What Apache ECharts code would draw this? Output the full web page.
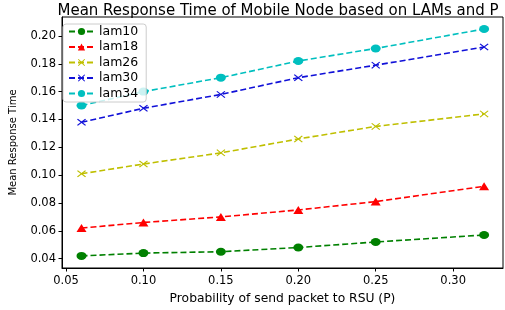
<!DOCTYPE html>
<html><head><meta charset="utf-8">
<script src="https://cdn.jsdelivr.net/npm/echarts@6/dist/echarts.min.js"></script>
<style>html,body{margin:0;padding:0;background:#fff}#c{width:505px;height:310px}</style>
</head><body><div id="c"></div>
<script>
const pValues = [0.06, 0.10, 0.15, 0.20, 0.25, 0.32];
const lam10 = [0.042, 0.044, 0.045, 0.048, 0.052, 0.057];
const lam18 = [0.062, 0.066, 0.070, 0.075, 0.081, 0.092];
const lam26 = [0.101, 0.108, 0.116, 0.126, 0.135, 0.144];
const lam30 = [0.138, 0.148, 0.158, 0.170, 0.179, 0.192];
const lam34 = [0.150, 0.160, 0.170, 0.182, 0.191, 0.205];
const xTicks = [0.05, 0.10, 0.15, 0.20, 0.25, 0.30];
const yTicks = [0.04, 0.06, 0.08, 0.10, 0.12, 0.14, 0.16, 0.18, 0.20];
const seriesNames = ['lam10', 'lam18', 'lam26', 'lam30', 'lam34'];

const X = 'path://M0,1L1,0L5,4L9,0L10,1L6,5L10,9L9,10L5,6L1,10L0,9L4,5Z';
const styles = [
  {color: '#008000', symbol: 'circle', size: [10, 8]},
  {color: '#ff0000', symbol: 'triangle', size: [10, 8]},
  {color: '#bfbf00', symbol: X, size: [9, 7]},
  {color: '#1010d8', symbol: X, size: [9, 7]},
  {color: '#00bfbf', symbol: 'circle', size: [10, 8]}
];
const allData = [lam10, lam18, lam26, lam30, lam34];
const font = 'DejaVu Sans';

const chart = echarts.init(document.getElementById('c'), null, {renderer: 'canvas'});
chart.setOption({
  animation: false,
  backgroundColor: '#fff',
  title: {
    text: 'Mean Response Time of Mobile Node based on LAMs and P',
    left: 273, top: -1, textAlign: 'center',
    textStyle: {fontFamily: font, fontSize: 15, fontWeight: 'normal', color: '#000'}
  },
  grid: {left: 56, right: 2, top: 17, bottom: 32, show: true, borderColor: '#000', borderWidth: 1},
  legend: {
    orient: 'vertical', left: 63, top: 24,
    itemWidth: 25, itemHeight: 9, itemGap: 2.5,
    padding: [1, 8, 2, 5],
    borderColor: '#cccccc', borderWidth: 1, borderRadius: 3,
    backgroundColor: 'rgba(255,255,255,0.8)',
    textStyle: {fontFamily: font, fontSize: 12.5, color: '#000'},
    data: seriesNames
  },
  xAxis: {
    type: 'value', min: 0.0474, max: 0.3322,
    name: 'Probability of send packet to RSU (P)', nameLocation: 'middle', nameGap: 25,
    nameTextStyle: {fontFamily: font, fontSize: 12.3, color: '#000'},
    axisLine: {show: true, lineStyle: {color: '#000', width: 1}},
    axisTick: {show: true, length: 3.5, customValues: xTicks, lineStyle: {color: '#000'}},
    axisLabel: {customValues: xTicks, fontFamily: font, fontSize: 11.5, color: '#000', margin: 7,
      formatter: v => v.toFixed(2)},
    splitLine: {show: false}
  },
  yAxis: {
    type: 'value', min: 0.0333, max: 0.2136,
    name: 'Mean Response Time', nameLocation: 'middle', nameGap: 44,
    nameTextStyle: {fontFamily: font, fontSize: 10, color: '#000'},
    axisLine: {show: true, lineStyle: {color: '#000', width: 1}},
    axisTick: {show: true, length: 3.5, customValues: yTicks, lineStyle: {color: '#000'}},
    axisLabel: {customValues: yTicks, fontFamily: font, fontSize: 11.5, color: '#000', margin: 6,
      formatter: v => v.toFixed(2)},
    splitLine: {show: false}
  },
  series: seriesNames.map((n, i) => ({
    name: n, type: 'line',
    data: pValues.map((p, j) => [p, allData[i][j]]),
    symbol: styles[i].symbol, symbolSize: styles[i].size,
    showAllSymbol: true,
    lineStyle: {color: styles[i].color, width: 1.6, type: [6, 3]},
    itemStyle: {color: styles[i].color, borderWidth: 0},
    emphasis: {disabled: true}
  }))
});
</script></body></html>
